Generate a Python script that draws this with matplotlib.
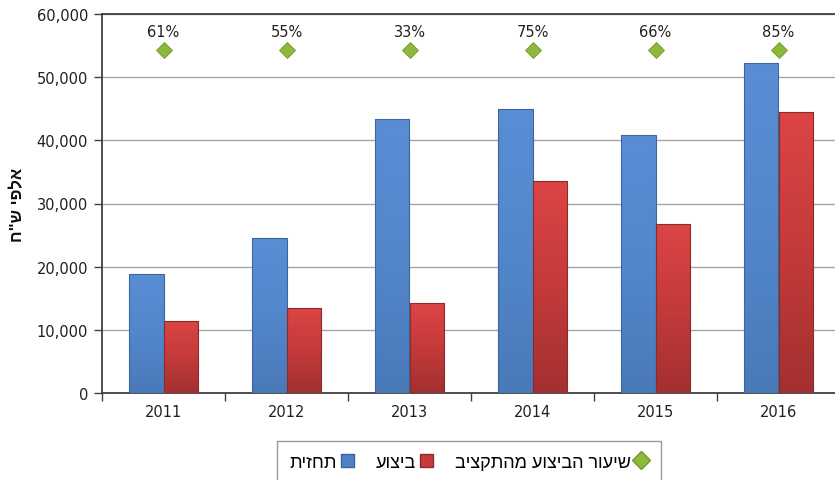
import numpy as np
import matplotlib
matplotlib.use("Agg")
import matplotlib.pyplot as plt
import matplotlib.transforms as mtransforms
from matplotlib.lines import Line2D
from matplotlib.patches import Patch
from matplotlib.colors import LinearSegmentedColormap
from matplotlib.ticker import FuncFormatter, MultipleLocator, FixedLocator

plt.rcParams['font.family'] = ['DejaVu Sans']
HEB = ['Liberation Sans', 'DejaVu Sans']

years = ['2011', '2012', '2013', '2014', '2015', '2016']
forecast = [18800, 24500, 43300, 45000, 40800, 52200]      # תחזית
execution = [11400, 13400, 14200, 33600, 26800, 44500]     # ביצוע
rate_pct = [61, 55, 33, 75, 66, 85]                         # שיעור הביצוע מהתקציב

label_forecast = 'תחזית'
label_execution = 'ביצוע'
label_rate = 'שיעור הביצוע מהתקציב'
ylabel_text = 'אלפי ש"ח'


def vis(s):
    # visual (left-to-right) order for right-to-left Hebrew text
    return s[::-1]


W, H = 835, 481
fig = plt.figure(figsize=(W / 100, H / 100), dpi=100)
ax = fig.add_axes([102 / W, (H - 394) / H, 738 / W, 379 / H])

x = np.arange(len(years))
bw = 0.284
blue = '#4F81C6'
red = '#C63B3B'

cmap_blue = LinearSegmentedColormap.from_list('b', ['#4A79B8', '#5287CC', '#5A8ED4'])
cmap_red = LinearSegmentedColormap.from_list('r', ['#A33030', '#C43A3A', '#DC4545'])

bars_b = ax.bar(x - bw / 2, forecast, bw, color='none', edgecolor='#3A659E', linewidth=0.8, zorder=4)
bars_r = ax.bar(x + bw / 2, execution, bw, color='none', edgecolor='#8E2A2A', linewidth=0.8, zorder=4)

grad = np.linspace(0, 1, 256).reshape(-1, 1)
for bars, cm in ((bars_b, cmap_blue), (bars_r, cmap_red)):
    for b in bars:
        x0, y0 = b.get_x(), b.get_y()
        w, h = b.get_width(), b.get_height()
        im = ax.imshow(grad, cmap=cm, origin='lower', aspect='auto',
                       extent=(x0, x0 + w, y0, y0 + h), zorder=3, interpolation='bilinear')
        im.set_clip_path(b)

trans = mtransforms.blended_transform_factory(ax.transData, ax.transAxes)
mk_y = np.full(len(years), 0.906)
ax.plot(x, mk_y, linestyle='none', marker='D', markersize=8.5, color='#8DB83C',
        markeredgecolor='#6E9A2A', markeredgewidth=0.6, transform=trans, zorder=5,
        clip_on=False)
for xi, p in zip(x, rate_pct):
    ax.text(xi, 0.955, f'{p}%', transform=trans, ha='center', va='center',
            fontsize=10.5, color='#202020')

ax.set_xlim(-0.5, len(years) - 0.5)
ax.set_ylim(0, 60000)
ax.yaxis.set_major_locator(MultipleLocator(10000))
ax.yaxis.set_major_formatter(FuncFormatter(lambda v, p: f'{int(v):,}'))
ax.grid(axis='y', color='#A6A6A6', linewidth=1.0, zorder=0)
ax.set_axisbelow(True)

ax.set_xticks(x)
ax.set_xticklabels(years)
ax.xaxis.set_minor_locator(FixedLocator(np.arange(len(years) + 1) - 0.5))
ax.tick_params(axis='x', which='major', length=0, pad=8, labelsize=10.5, labelcolor='#202020')
ax.tick_params(axis='x', which='minor', length=6, width=1, color='#404040', direction='out')
ax.tick_params(axis='y', which='major', length=6, width=1, color='#404040', direction='out',
               labelsize=10.5, labelcolor='#202020', pad=4)

for s in ['left', 'bottom', 'top']:
    ax.spines[s].set_color('#404040')
    ax.spines[s].set_linewidth(1.3)
ax.spines['right'].set_visible(False)

ax.set_ylabel(vis(ylabel_text), fontsize=12, fontweight='bold', labelpad=8,
              color='#101010', family=HEB)

handles = [
    Patch(facecolor=blue, edgecolor='#3A659E'),
    Patch(facecolor=red, edgecolor='#8E2A2A'),
    Line2D([], [], linestyle='none', marker='D', markersize=9, color='#8DB83C',
           markeredgecolor='#6E9A2A'),
]
labels = [vis(label_forecast), vis(label_execution), vis(label_rate)]
leg = fig.legend(handles, labels, ncol=3, markerfirst=False, loc='upper left',
                 bbox_to_anchor=(277 / W, (H - 442) / H), frameon=True, fancybox=False,
                 edgecolor='#808080', prop={'family': HEB, 'size': 13},
                 handlelength=0.75, handleheight=0.75,
                 handletextpad=0.2, columnspacing=1.2, borderpad=0.7, borderaxespad=0)
leg.get_frame().set_linewidth(1.0)

fig.savefig('out.png', dpi=100)
